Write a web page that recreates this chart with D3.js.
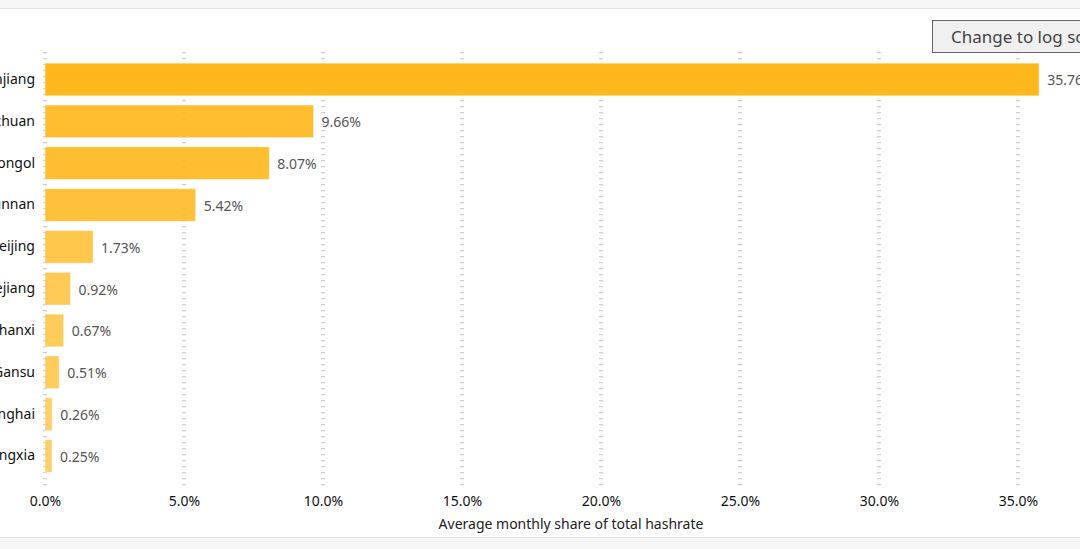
<!DOCTYPE html>
<html>
<head>
<meta charset="utf-8">
<script src="https://cdn.jsdelivr.net/npm/d3@7"></script>
<style>
  body { margin: 0; background: #fff; overflow: hidden; }
  svg { display: block; overflow: visible; font-family: "Noto Sans", "Open Sans", sans-serif; }
</style>
</head>
<body>
<svg id="chart" width="1080" height="549"></svg>
<script>
// provinces, sorted by share
var provinces = ["Xinjiang", "Sichuan", "Nei Mongol", "Yunnan", "Beijing", "Zhejiang", "Shanxi", "Gansu", "Qinghai", "Ningxia"]
var shares = [35.76, 9.66, 8.07, 5.42, 1.73, 0.92, 0.67, 0.51, 0.26, 0.25]
var xTicks = [0, 5, 10, 15, 20, 25, 30, 35]
var axisTitle = "Average monthly share of total hashrate"
var buttonLabel = "Change to log scale"

var rows = provinces.map((p, i) => ({ name: p, value: shares[i] }))

var svg = d3.select("#chart")

// page bands at top and bottom
svg.append("rect").attr("x", 0).attr("y", 0).attr("width", 1080).attr("height", 8).style("fill", "#f7f7f7")
svg.append("line").attr("x1", 0).attr("x2", 1080).attr("y1", 8.5).attr("y2", 8.5).style("stroke", "#e3e3e3")
svg.append("rect").attr("x", 0).attr("y", 538).attr("width", 1080).attr("height", 11).style("fill", "#f7f7f7")
svg.append("line").attr("x1", 0).attr("x2", 1080).attr("y1", 537.5).attr("y2", 537.5).style("stroke", "#e3e3e3")

var x = d3.scaleLinear()
    .domain([0, 35])
    .range([45, 1018])

var y = d3.scaleBand()
    .domain(provinces)
    .range([59, 476.5])
    .paddingInner(0.22)
    .paddingOuter(0.1)

// smaller shares get a paler orange
var fade = d3.scaleLog()
    .domain([d3.min(shares), d3.max(shares)])
    .range([0.66, 1])

// dotted gridlines
svg.append("g")
  .selectAll("line")
  .data(xTicks)
  .join("line")
    .attr("x1", d => x(d)).attr("x2", d => x(d))
    .attr("y1", 52).attr("y2", 489)
    .style("stroke", "#cfcfcf")
    .style("stroke-width", 4)
    .style("stroke-dasharray", "1.2 4.8")

// bars
svg.append("g")
  .selectAll("rect")
  .data(rows)
  .join("rect")
    .attr("x", x(0))
    .attr("y", d => y(d.name))
    .attr("width", d => x(d.value) - x(0))
    .attr("height", y.bandwidth())
    .style("fill", "#ffb81c")
    .style("fill-opacity", d => fade(d.value))
    .style("stroke", "rgba(255,255,255,0.45)")
    .style("stroke-width", 1)

// value labels
svg.append("g")
  .selectAll("text")
  .data(rows)
  .join("text")
    .attr("x", d => x(d.value) + 8)
    .attr("y", d => y(d.name) + y.bandwidth() / 2 + 1)
    .attr("dy", "0.35em")
    .style("font-size", "14px")
    .style("fill", "#555")
    .text(d => d.value.toFixed(2) + "%")

// category axis
var yAxis = svg.append("g")
    .attr("transform", "translate(45,0)")
    .call(d3.axisLeft(y).tickSize(0).tickPadding(10))
yAxis.select(".domain").remove()
yAxis.selectAll("text").style("font-size", "14px").style("fill", "#111").style("font-family", "Noto Sans")

// value axis
var xAxis = svg.append("g")
    .attr("transform", "translate(0,490)")
    .call(d3.axisBottom(x).tickValues(xTicks).tickFormat(d => d.toFixed(1) + "%").tickSize(0).tickPadding(6))
xAxis.select(".domain").remove()
xAxis.selectAll("text").style("font-size", "14px").style("fill", "#111").style("font-family", "Noto Sans")

svg.append("text")
    .attr("x", 571)
    .attr("y", 529)
    .attr("text-anchor", "middle")
    .style("font-size", "14px")
    .style("fill", "#222")
    .text(axisTitle)

// scale toggle button (clipped by the frame like the original)
svg.append("rect")
    .attr("x", 932.5).attr("y", 20.5)
    .attr("width", 190).attr("height", 32)
    .style("fill", "#f0f0f0")
    .style("stroke", "#666")
svg.append("text")
    .attr("x", 951)
    .attr("y", 43)
    .style("font-size", "17px")
    .style("fill", "#444")
    .text(buttonLabel)
</script>
</body>
</html>
